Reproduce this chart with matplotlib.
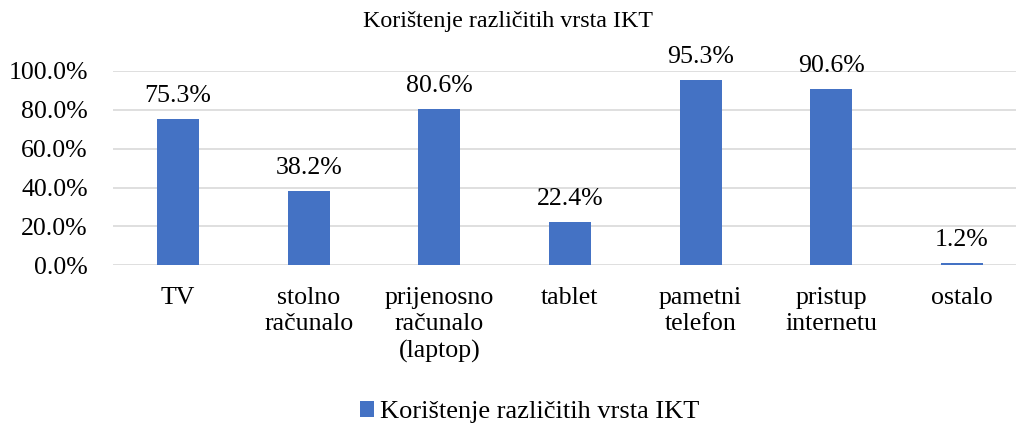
import matplotlib.pyplot as plt
import numpy as np
from matplotlib.ticker import PercentFormatter

categories = ["TV", "stolno\nračunalo", "prijenosno\nračunalo\n(laptop)", "tablet",
              "pametni\ntelefon", "pristup\ninternetu", "ostalo"]
values = [75.3, 38.2, 80.6, 22.4, 95.3, 90.6, 1.2]
series_name = "Korištenje različitih vrsta IKT"
yticks = [0, 20, 40, 60, 80, 100]

plt.rcParams["font.family"] = ["Liberation Serif", "DejaVu Serif"]
bar_color = "#4472C4"
grid_color = "#D9D9D9"
fs = 18.6

fig = plt.figure(figsize=(10.16, 4.25), dpi=100)
ax = fig.add_axes([0.111, 0.376, 0.900, 0.457])

x = np.arange(len(categories))
bars = ax.bar(x, values, width=0.32, color=bar_color, label=series_name, zorder=3)

for rect, v in zip(bars, values):
    ax.annotate(f"{v:.1f}%", (rect.get_x() + rect.get_width() / 2, v),
                xytext=(0, 8.5), textcoords="offset points",
                ha="center", va="bottom", fontsize=fs)

ax.set_xlim(-0.5, len(categories) - 0.5)
ax.set_ylim(0, 100)
ax.set_yticks(yticks)
ax.yaxis.set_major_formatter(PercentFormatter(decimals=1))
ax.set_xticks(x)
ax.set_xticklabels(categories, fontsize=fs, linespacing=1.27)
ax.tick_params(axis="y", labelsize=fs, length=0, pad=18)
ax.tick_params(axis="x", length=0, pad=15.5)

ax.grid(axis="y", color=grid_color, linewidth=1.2, zorder=0)
for s in ax.spines.values():
    s.set_visible(False)

fig.text(0.5, 0.950, series_name, ha="center", va="center", fontsize=17.3)
fig.legend(loc="center", bbox_to_anchor=(0.521, 0.03), frameon=False, fontsize=19,
           handlelength=0.55, handleheight=0.55, handletextpad=0.2)

fig.savefig("out.png", dpi=100)
plt.close(fig)
